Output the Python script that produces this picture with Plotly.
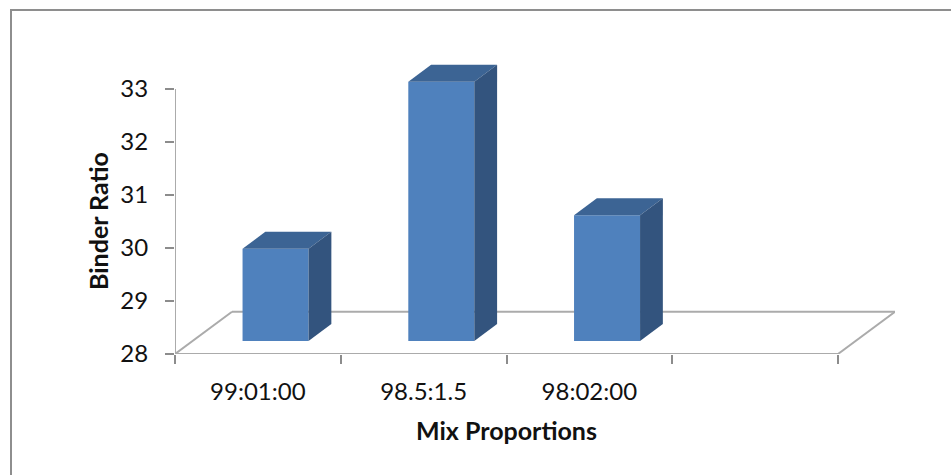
import plotly.graph_objects as go

categories = ["99:01:00", "98.5:1.5", "98:02:00"]
values = [29.74, 32.89, 30.37]
y_ticks = [28, 29, 30, 31, 32, 33]
x_ticks = [0, 1, 2, 3, 4]
x_title = "Mix Proportions"
y_title = "Binder Ratio"

W, H = 951, 475
L, R, T, B = 175, 895, 60, 354
X_UNIT, Y_UNIT = 165.75, 53.0
Y0 = 28
FONT = "Lato"
AXIS = "#ABABAB"
TICK = "#8C8C8C"
FRONT, TOP_FACE, SIDE = "#4F81BD", "#3C6494", "#33547E"

DX = 57 / X_UNIT          # full floor depth, x units
DY = 42.3 / Y_UNIT        # full floor depth, y units
BAR_W = 66 / X_UNIT
D0, D1 = 0.31, 0.71       # front and back depth of a bar


def px(x, y, d=0.0):
    return x + d * DX, y + d * DY


fig = go.Figure()

centres = [i + 0.5 for i in range(len(categories))]
fx = [c + D0 * DX for c in centres]
base = Y0 + D0 * DY
fig.add_trace(go.Bar(
    x=fx, y=[v - Y0 for v in values], base=base, width=BAR_W,
    marker=dict(color=FRONT, line=dict(width=0)),
    showlegend=False, hoverinfo="skip",
))

for c, v in zip(centres, values):
    a, b = c - BAR_W / 2, c + BAR_W / 2
    top = [px(a, v, D0), px(b, v, D0), px(b, v, D1), px(a, v, D1), px(a, v, D0)]
    side = [px(b, Y0, D0), px(b, Y0, D1), px(b, v, D1), px(b, v, D0), px(b, Y0, D0)]
    for pts, col in ((top, TOP_FACE), (side, SIDE)):
        fig.add_trace(go.Scatter(
            x=[p[0] for p in pts], y=[p[1] for p in pts], mode="lines",
            fill="toself", fillcolor=col, line=dict(width=0),
            showlegend=False, hoverinfo="skip",
        ))

shapes = []
line = dict(color=AXIS, width=2)
x_end = x_ticks[-1]
floor = [px(0, Y0), px(x_end, Y0), px(x_end, Y0, 1), px(0, Y0, 1), px(0, Y0)]
for p, q in zip(floor[:-1], floor[1:]):
    shapes.append(dict(type="line", xref="x", yref="y", layer="below",
                       x0=p[0], y0=p[1], x1=q[0], y1=q[1], line=line))
shapes.append(dict(type="line", xref="x", yref="y", layer="below",
                   x0=0, y0=y_ticks[0], x1=0, y1=y_ticks[-1], line=line))

# image frame: only the top and left edges
fx_px = lambda p: (p - L) / (R - L)
fy_px = lambda p: (B - p) / (B - T)
frame = dict(color="#8E8E8E", width=2)
shapes.append(dict(type="line", xref="paper", yref="paper",
                   x0=fx_px(11), y0=fy_px(H), x1=fx_px(11), y1=fy_px(10), line=frame))
shapes.append(dict(type="line", xref="paper", yref="paper",
                   x0=fx_px(10), y0=fy_px(10), x1=fx_px(W), y1=fy_px(10), line=frame))

title_font = dict(family=FONT, size=25, color="#111111")
annotations = [
    dict(text=f"<b>{x_title}</b>", xref="paper", yref="paper", x=fx_px(506), y=fy_px(430),
         xanchor="center", yanchor="middle", showarrow=False, font=title_font),
    dict(text=f"<b>{y_title}</b>", xref="paper", yref="paper", x=fx_px(98), y=fy_px(221),
         xanchor="center", yanchor="middle", showarrow=False, textangle=-90, font=title_font),
]

fig.update_layout(
    width=W, height=H, autosize=False,
    margin=dict(l=L, r=W - R, t=T, b=H - B, pad=0),
    paper_bgcolor="white", plot_bgcolor="rgba(0,0,0,0)",
    showlegend=False, shapes=shapes, annotations=annotations, barmode="overlay",
    font=dict(family=FONT, size=24, color="#111111"),
    xaxis=dict(
        range=[0, (R - L) / X_UNIT], showgrid=False, zeroline=False, showline=False,
        tickmode="array", tickvals=centres, ticktext=categories, ticks="outside",
        ticklen=16, tickcolor="rgba(0,0,0,0)", tickfont=dict(family=FONT, size=24),
        minor=dict(tickmode="array", tickvals=x_ticks, ticks="outside", ticklen=9,
                   tickcolor=TICK, tickwidth=1.5, showgrid=False),
        automargin=False,
    ),
    yaxis=dict(
        range=[Y0, Y0 + (B - T) / Y_UNIT], showgrid=False, zeroline=False, showline=False,
        tickmode="array", tickvals=y_ticks, ticktext=[str(t) for t in y_ticks],
        ticks="outside", ticklen=21, tickcolor="rgba(0,0,0,0)",
        tickfont=dict(family=FONT, size=24),
        minor=dict(tickmode="array", tickvals=y_ticks, ticks="outside", ticklen=9,
                   tickcolor=TICK, tickwidth=1.5, showgrid=False),
        automargin=False,
    ),
)

fig.write_html("out.html", config=dict(displayModeBar=False),
               post_script="document.body.style.margin='0';document.documentElement.style.overflow='hidden';")
